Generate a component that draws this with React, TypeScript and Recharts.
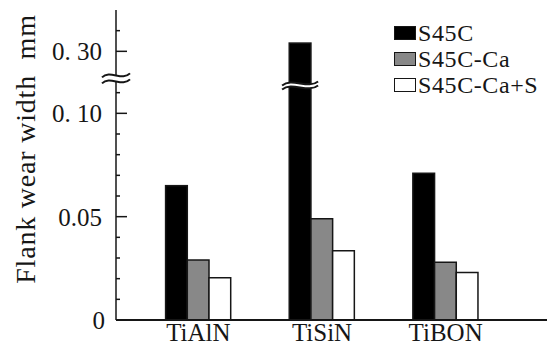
import React from 'react';
import { BarChart, Bar, XAxis, YAxis } from 'recharts';

const categories = ['TiAlN', 'TiSiN', 'TiBON'];
const s45c = [0.065, 0.304, 0.071];
const s45cCa = [0.029, 0.049, 0.028];
const s45cCaS = [0.0205, 0.0335, 0.023];

const seriesNames = ['S45C', 'S45C-Ca', 'S45C-Ca+S'];
const seriesColors = ['#000000', '#888888', '#ffffff'];

// broken axis: values above the gap are shifted down
const GAP_LOW = 0.115;
const GAP_SHIFT = 0.17;
const toAxis = (v: number) => (v <= GAP_LOW ? v : v - GAP_SHIFT);

const minorTicks = [0, 0.01, 0.02, 0.03, 0.04, 0.05, 0.06, 0.07, 0.08, 0.09, 0.1, 0.11, 0.3, 0.31];
const majorTicks = [0, 0.05, 0.1, 0.3];
const majorLabels = ['0', '0.05', '0. 10', '0. 30'];
const AXIS_BREAK = 0.1169;
const BAR_BREAK = 0.1135;

const data = categories.map((name, i) => ({
  name,
  a: toAxis(s45c[i]),
  b: toAxis(s45cCa[i]),
  c: toAxis(s45cCaS[i]),
}));

const axisTicks = [...minorTicks.map(toAxis), AXIS_BREAK].sort((p, q) => p - q);

const FONT = '"Liberation Serif", "DejaVu Serif", serif';
const INK = '#161616';

const breakPath = (cx: number, cy: number, w: number, gap: number) => {
  const h = w / 2;
  const top = (dy: number) =>
    `M ${cx - h} ${cy + dy + 2} C ${cx - h * 0.45} ${cy + dy - 6}, ${cx + h * 0.45} ${cy + dy + 6}, ${cx + h} ${cy + dy - 2}`;
  const fill =
    `M ${cx - h} ${cy - gap / 2 + 2} C ${cx - h * 0.45} ${cy - gap / 2 - 6}, ${cx + h * 0.45} ${cy - gap / 2 + 6}, ${cx + h} ${cy - gap / 2 - 2} ` +
    `L ${cx + h} ${cy + gap / 2 - 2} C ${cx + h * 0.45} ${cy + gap / 2 + 6}, ${cx - h * 0.45} ${cy + gap / 2 - 6}, ${cx - h} ${cy + gap / 2 + 2} Z`;
  return { t: top(-gap / 2), b: top(gap / 2), fill };
};

const BreakMark = ({ cx, cy, w, gap }: { cx: number; cy: number; w: number; gap: number }) => {
  const p = breakPath(cx, cy, w, gap);
  return (
    <g>
      <path d={p.fill} fill="#fff" stroke="none" />
      <path d={p.t} fill="none" stroke={INK} strokeWidth={2} />
      <path d={p.b} fill="none" stroke={INK} strokeWidth={2} />
    </g>
  );
};

const YTick = (props: any) => {
  const { x, y, payload } = props;
  const v = payload.value as number;
  if (Math.abs(v - AXIS_BREAK) < 1e-6) {
    return <BreakMark cx={x} cy={y} w={28} gap={6} />;
  }
  const idx = majorTicks.findIndex((m) => Math.abs(toAxis(m) - v) < 1e-6);
  const major = idx >= 0;
  return (
    <g>
      <line x1={x} x2={x + (major ? 11 : 4)} y1={y} y2={y} stroke={INK} strokeWidth={1.5} />
      {major && (
        <text x={x - (idx === 0 ? 11 : 14)} y={y} dy={9} textAnchor="end" fontFamily={FONT} fontSize={25} fill={INK} style={{ whiteSpace: 'pre' }}>
          {majorLabels[idx]}
        </text>
      )}
    </g>
  );
};

const XTick = (props: any) => {
  const { x, y, payload } = props;
  return (
    <text x={x} y={y + 21} textAnchor="middle" fontFamily={FONT} fontSize={25} fill={INK}>
      {payload.value}
    </text>
  );
};

const BrokenBar = (props: any) => {
  const { x, y, width, height, fill, payload } = props;
  const v = payload.a as number;
  const pxPer = height / v;
  const by = y + height - BAR_BREAK * pxPer;
  return (
    <g>
      <rect x={x} y={y} width={width} height={height} fill={fill} stroke={INK} strokeWidth={1.5} />
      {v > BAR_BREAK && <BreakMark cx={x + width / 2} cy={by} w={36} gap={4} />}
    </g>
  );
};

const YLabel = (props: any) => {
  const { viewBox } = props;
  const cx = viewBox.x + 25;
  const cy = viewBox.y + 139;
  return (
    <text x={cx} y={cy} transform={`rotate(-90 ${cx} ${cy})`} textAnchor="middle" dominantBaseline="central" fontFamily={FONT} fontSize={28} letterSpacing={0.8} fill={INK} style={{ whiteSpace: 'pre' }}>
      Flank wear width  mm
    </text>
  );
};

const LegendBox = () => (
  <div style={{ position: 'absolute', left: 394, top: 20, fontFamily: FONT, fontSize: 24, letterSpacing: 0.6, color: INK }}>
    {seriesNames.map((n, i) => (
      <div key={n} style={{ display: 'flex', alignItems: 'center', height: 26, whiteSpace: 'nowrap' }}>
        <span
          style={{
            display: 'block',
            width: 20,
            height: 12,
            background: seriesColors[i],
            border: `1px solid ${INK}`,
            marginRight: 2,
          }}
        />
        <span style={{ display: 'block', height: 24, lineHeight: '24px' }}>{n}</span>
      </div>
    ))}
  </div>
);

export default function App() {
  return (
    <div style={{ position: 'absolute', left: 0, top: 0, width: 554, height: 350, background: '#fff' }}>
      <BarChart width={554} height={350} data={data} margin={{ top: 10, right: 7, bottom: 0, left: 0 }} barGap={0} barSize={21.7}>
        <XAxis
          dataKey="name"
          height={30}
          tickLine={false}
          tickSize={0}
          tickMargin={0}
          tick={<XTick />}
          axisLine={{ stroke: INK, strokeWidth: 1.8 }}
          padding={{ left: 20.6, right: 39.5 }}
          interval={0}
        />
        <YAxis
          type="number"
          width={116}
          domain={[0, 0.15]}
          ticks={axisTicks}
          interval={0}
          tickLine={false}
          tickSize={0}
          tickMargin={0}
          tick={<YTick />}
          axisLine={{ stroke: INK, strokeWidth: 1.5 }}
          allowDataOverflow
          label={<YLabel />}
        />
        <Bar dataKey="a" fill={seriesColors[0]} isAnimationActive={false} shape={<BrokenBar />} />
        <Bar dataKey="b" fill={seriesColors[1]} stroke={INK} strokeWidth={1.5} isAnimationActive={false} />
        <Bar dataKey="c" fill={seriesColors[2]} stroke={INK} strokeWidth={1.5} isAnimationActive={false} />
      </BarChart>
      <LegendBox />
    </div>
  );
}
